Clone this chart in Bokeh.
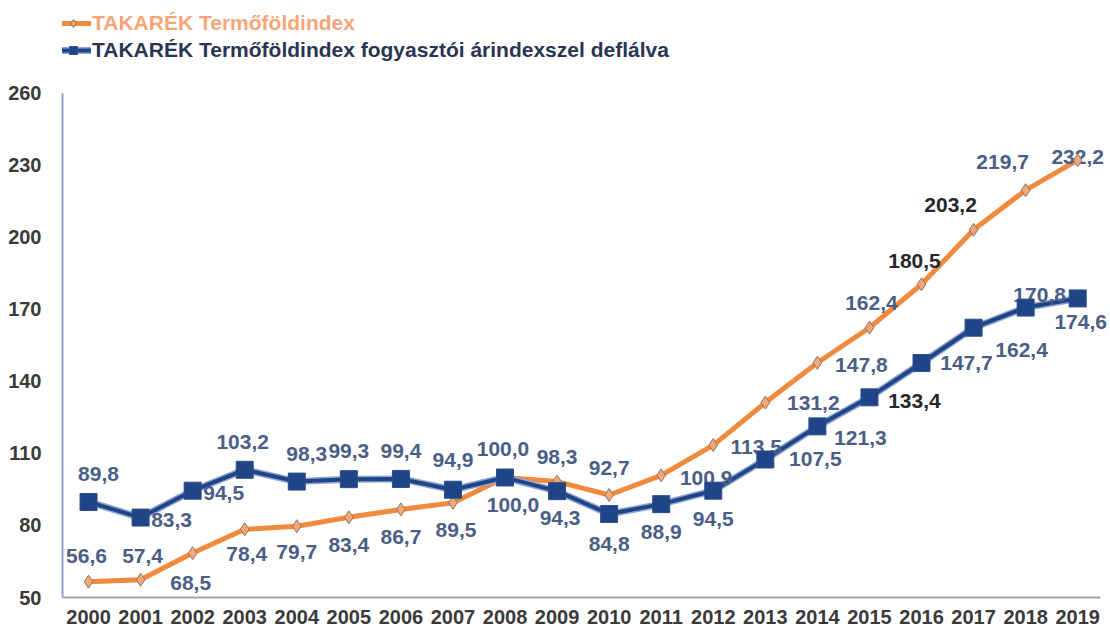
from bokeh.plotting import figure
from bokeh.models import Range1d, FixedTicker, Legend, LegendItem, ColumnDataSource
from bokeh.embed import file_html
from bokeh.resources import INLINE

# ---- data ----
years = [2000, 2001, 2002, 2003, 2004, 2005, 2006, 2007, 2008, 2009,
         2010, 2011, 2012, 2013, 2014, 2015, 2016, 2017, 2018, 2019]
index_nominal = [56.6, 57.4, 68.5, 78.4, 79.7, 83.4, 86.7, 89.5, 100.0, 98.3,
                 92.7, 100.9, 113.5, 131.2, 147.8, 162.4, 180.5, 203.2, 219.7, 232.2]
index_deflated = [89.8, 83.3, 94.5, 103.2, 98.3, 99.3, 99.4, 94.9, 100.0, 94.3,
                  84.8, 88.9, 94.5, 107.5, 121.3, 133.4, 147.7, 162.4, 170.8, 174.6]
y_ticks = [50, 80, 110, 140, 170, 200, 230, 260]
name_nominal = "TAKARÉK Termőföldindex"
name_deflated = "TAKARÉK Termőföldindex fogyasztói árindexszel deflálva"

# label placement (screen px; dy negative = above the point)
nom_dx = [-2, 2, -2, 2, 0, 0, 0, 3, 8, 0, 0, 45, 43, 48, 44, 2, -7, -23, -23, 0]
nom_dy = [-26, -24, 30, 25, 26, 28, 28, 27, 28, -25, -27, 3, 2, 0, 2, -25, -23, -25, -28, -3]
nom_dark = [16, 17]
def_dx = [10, 31, 31, -2, 10, 0, 0, 0, -2, 3, 0, 0, 0, 50, 43, 45, 45, 48, 14, 3]
def_dy = [-28, 2, 2, -28, -28, -28, -28, -30, -28, 27, 30, 28, 28, 0, 12, 4, 0, 22, -13, 24]
def_dark = [15]

ORANGE = "#f28a3e"
NAVY = "#1f4587"
LABEL_BLUE = "#4b5e86"
DARK = "#26282e"
FONT = "Liberation Sans"

def fmt(v):
    return f"{v:.1f}".replace(".", ",")

Y_MIN, Y_AXIS_TOP, Y_FRAME_TOP = 50, 260, 297.9
X_LEFT, X_AXIS_RIGHT, X_FRAME_RIGHT = 1999.5, 2019.44, 2019.63

p = figure(width=1110, height=630, output_backend="svg", toolbar_location=None,
           x_range=Range1d(X_LEFT, X_FRAME_RIGHT), y_range=Range1d(Y_MIN, Y_FRAME_TOP),
           min_border_left=62, min_border_right=0, min_border_top=2, min_border_bottom=33)
p.outline_line_color = None
p.xgrid.grid_line_color = None
p.ygrid.grid_line_color = None

# lines
r_nom_line = p.line(years, index_nominal, line_color=ORANGE, line_width=5, line_join="round")
r_def_halo = p.line(years, index_deflated, line_color="#8ea6d4", line_width=7, line_join="round")
r_def_line = p.line(years, index_deflated, line_color=NAVY, line_width=4, line_join="round")

# data labels
src_nom = ColumnDataSource(dict(
    x=years, y=index_nominal, t=[fmt(v) for v in index_nominal],
    dx=nom_dx, dy=nom_dy,
    c=[DARK if i in nom_dark else LABEL_BLUE for i in range(len(years))]))
src_def = ColumnDataSource(dict(
    x=years, y=index_deflated, t=[fmt(v) for v in index_deflated],
    dx=def_dx, dy=def_dy,
    c=[DARK if i in def_dark else LABEL_BLUE for i in range(len(years))]))
for src in (src_def, src_nom):
    p.text(x="x", y="y", text="t", x_offset="dx", y_offset="dy", source=src,
           text_color="c", text_font_size="21px", text_font_style="bold",
           text_align="center", text_baseline="middle", text_font={"value": FONT})

# markers on top of labels
r_nom_pts = p.scatter(years, index_nominal, marker="diamond", size=13,
                      fill_color="#f3a877", line_color="#8a7466", line_width=1)
r_def_pts = p.scatter(years, index_deflated, marker="square", size=17,
                      fill_color=NAVY, line_color="#2c4f8f", line_width=1)

# axes
p.xaxis.ticker = FixedTicker(ticks=years)
p.xaxis.major_label_overrides = {y: str(y) for y in years}
p.xaxis.bounds = (X_LEFT, X_AXIS_RIGHT)
p.yaxis.ticker = FixedTicker(ticks=y_ticks)
p.yaxis.bounds = (Y_MIN, Y_AXIS_TOP)
for ax in (p.xaxis, p.yaxis):
    ax.major_tick_line_color = None
    ax.minor_tick_line_color = None
    ax.major_label_text_font = FONT
    ax.major_label_text_font_style = "bold"
    ax.major_label_text_font_size = "20px"
    ax.major_label_text_color = "#3a3a3a"
p.xaxis.axis_line_color = "#a3a3a3"
p.xaxis.axis_line_width = 2
p.xaxis.major_label_standoff = 6
p.yaxis.axis_line_color = "#8fa2cc"
p.yaxis.axis_line_width = 2
p.yaxis.major_label_standoff = 15

# legends (two, for distinct text colours)
leg1 = Legend(items=[LegendItem(label=name_nominal, renderers=[r_nom_line, r_nom_pts])],
              location=(-7, 562), label_text_color="#f5a577")
leg2 = Legend(items=[LegendItem(label=name_deflated, renderers=[r_def_halo, r_def_line, r_def_pts])],
              location=(-7, 535), label_text_color="#2a3554")
for lg in (leg1, leg2):
    lg.border_line_color = None
    lg.background_fill_alpha = 0
    lg.padding = 0
    lg.margin = 0
    lg.glyph_width = 36
    lg.glyph_height = 20
    lg.label_height = 20
    lg.label_standoff = 1
    lg.label_text_font = FONT
    lg.label_text_font_style = "bold"
    lg.label_text_font_size = "21px"
    lg.label_text_baseline = "middle"
    p.add_layout(lg, "center")

open("out.html", "w").write(file_html(p, INLINE))
